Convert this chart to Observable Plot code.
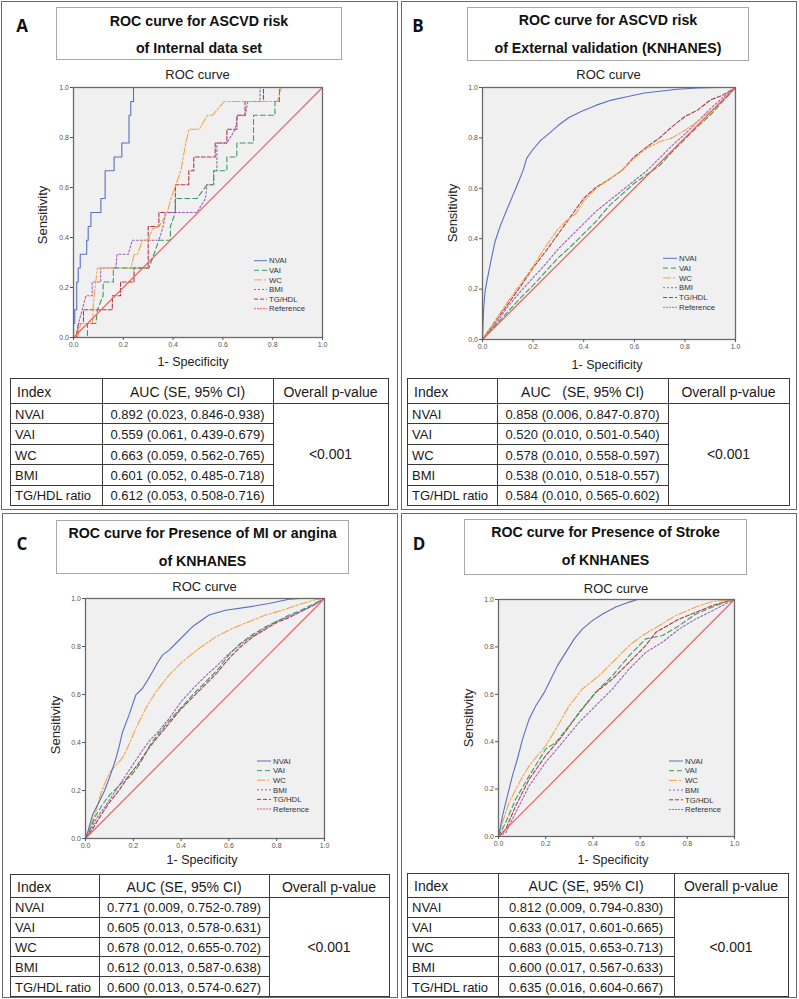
<!DOCTYPE html>
<html><head><meta charset="utf-8">
<script src="https://cdn.jsdelivr.net/npm/d3@7"></script>
<script src="https://cdn.jsdelivr.net/npm/@observablehq/plot@0.6"></script>
<style>
body{margin:0;background:#fff;font-family:"Liberation Sans",Arial,sans-serif;}
#root{position:relative;width:799px;height:999px;overflow:hidden;background:#fff;}
.panel{position:absolute;border:1px solid #6a6a6a;box-sizing:border-box;}
.tbox{position:absolute;border:1px solid #a8a8a8;box-sizing:border-box;background:#fff;}
.c{position:absolute;transform:translate(-50%,-50%);white-space:pre;color:#1a1a1a;}
.l{position:absolute;transform:translate(0,-50%);white-space:pre;color:#1a1a1a;}
.ln{position:absolute;background:#3a3a3a;}
</style></head>
<body><div id="root"></div>
<script>
// ---------- data ----------
const seriesNames = ["NVAI","VAI","WC","BMI","TG/HDL","Reference"];
const tickValues = [0, 0.2, 0.4, 0.6, 0.8, 1.0];
const reference = [[0,0],[1,1]];

// Panel A (internal data set) – step ROC curves
const A_NVAI = [[0,0],[0,0.056],[0.005,0.056],[0.005,0.111],[0.013,0.111],[0.013,0.222],[0.019,0.222],[0.019,0.278],[0.027,0.278],[0.027,0.333],[0.053,0.333],[0.053,0.389],[0.059,0.389],[0.059,0.444],[0.07,0.444],[0.07,0.5],[0.11,0.5],[0.11,0.556],[0.127,0.556],[0.127,0.667],[0.163,0.667],[0.163,0.722],[0.194,0.722],[0.194,0.778],[0.223,0.778],[0.223,0.889],[0.23,0.889],[0.23,0.944],[0.241,0.944],[0.241,1],[1,1]];
const A_VAI = [[0,0],[0.056,0],[0.056,0.056],[0.09,0.056],[0.096,0.111],[0.119,0.167],[0.119,0.222],[0.16,0.222],[0.16,0.278],[0.303,0.278],[0.323,0.333],[0.343,0.389],[0.389,0.389],[0.389,0.444],[0.409,0.5],[0.409,0.556],[0.496,0.556],[0.536,0.611],[0.563,0.611],[0.563,0.667],[0.616,0.667],[0.616,0.722],[0.656,0.722],[0.656,0.778],[0.723,0.778],[0.723,0.889],[0.809,0.889],[0.809,0.944],[0.827,0.944],[0.827,1],[1,1]];
const A_WC = [[0,0],[0.016,0],[0.029,0.056],[0.076,0.056],[0.08,0.139],[0.096,0.278],[0.23,0.278],[0.244,0.333],[0.257,0.333],[0.277,0.389],[0.3,0.389],[0.317,0.434],[0.344,0.444],[0.377,0.5],[0.391,0.556],[0.411,0.611],[0.431,0.667],[0.451,0.778],[0.464,0.833],[0.505,0.833],[0.538,0.889],[0.558,0.889],[0.605,0.944],[0.819,0.944],[0.835,1],[1,1]];
const A_BMI = [[0,0],[0.016,0],[0.02,0.056],[0.035,0.111],[0.05,0.167],[0.075,0.167],[0.075,0.222],[0.109,0.222],[0.109,0.278],[0.17,0.278],[0.175,0.333],[0.22,0.333],[0.236,0.389],[0.343,0.389],[0.36,0.444],[0.37,0.5],[0.496,0.5],[0.53,0.556],[0.536,0.611],[0.563,0.611],[0.563,0.667],[0.576,0.667],[0.576,0.778],[0.616,0.778],[0.65,0.833],[0.66,0.889],[0.69,0.889],[0.7,0.944],[0.749,0.944],[0.749,1],[1,1]];
const A_TG = [[0,0],[0.01,0],[0.02,0.056],[0.04,0.056],[0.04,0.111],[0.156,0.111],[0.156,0.167],[0.189,0.167],[0.189,0.222],[0.243,0.222],[0.243,0.278],[0.3,0.278],[0.3,0.444],[0.343,0.444],[0.343,0.5],[0.409,0.5],[0.409,0.611],[0.463,0.611],[0.463,0.667],[0.483,0.667],[0.483,0.722],[0.569,0.722],[0.569,0.778],[0.616,0.778],[0.616,0.833],[0.656,0.833],[0.656,0.889],[0.689,0.889],[0.689,0.944],[0.763,0.944],[0.763,1],[1,1]];

// Panel B (external validation, KNHANES)
const B_NVAI = [[0,0],[0.002,0.06],[0.005,0.13],[0.01,0.19],[0.017,0.23],[0.025,0.27],[0.037,0.33],[0.05,0.39],[0.07,0.45],[0.09,0.5],[0.115,0.56],[0.14,0.62],[0.16,0.67],[0.175,0.72],[0.2,0.755],[0.23,0.79],[0.26,0.815],[0.3,0.85],[0.34,0.88],[0.39,0.905],[0.45,0.93],[0.51,0.95],[0.58,0.965],[0.64,0.978],[0.7,0.985],[0.77,0.993],[0.85,0.998],[0.92,1],[1,1]];
const B_VAI = [[0,0],[0.05,0.055],[0.1,0.11],[0.15,0.165],[0.2,0.215],[0.25,0.27],[0.3,0.325],[0.35,0.37],[0.4,0.42],[0.45,0.47],[0.5,0.53],[0.55,0.575],[0.6,0.62],[0.65,0.655],[0.7,0.69],[0.75,0.745],[0.8,0.795],[0.85,0.845],[0.9,0.89],[0.95,0.945],[1,1]];
const B_WC = [[0,0],[0.02,0.03],[0.05,0.075],[0.1,0.15],[0.15,0.22],[0.2,0.29],[0.25,0.37],[0.3,0.44],[0.33,0.47],[0.37,0.5],[0.4,0.55],[0.45,0.6],[0.5,0.635],[0.55,0.67],[0.6,0.72],[0.65,0.76],[0.7,0.785],[0.75,0.8],[0.8,0.83],[0.85,0.865],[0.9,0.905],[0.95,0.95],[1,1]];
const B_BMI = [[0,0],[0.05,0.06],[0.1,0.13],[0.15,0.19],[0.2,0.245],[0.25,0.3],[0.3,0.36],[0.35,0.41],[0.4,0.46],[0.45,0.51],[0.5,0.55],[0.55,0.59],[0.6,0.63],[0.65,0.67],[0.7,0.72],[0.75,0.77],[0.8,0.815],[0.85,0.865],[0.9,0.915],[0.95,0.96],[1,1]];
const B_TG = [[0,0],[0.02,0.03],[0.05,0.07],[0.1,0.14],[0.15,0.21],[0.2,0.285],[0.25,0.35],[0.3,0.42],[0.35,0.49],[0.4,0.56],[0.45,0.605],[0.5,0.635],[0.55,0.67],[0.6,0.725],[0.65,0.765],[0.7,0.8],[0.75,0.845],[0.8,0.885],[0.85,0.91],[0.9,0.95],[0.95,0.97],[1,1]];

// Panel C (MI or angina, KNHANES)
const C_NVAI = [[0,0],[0.01,0.03],[0.03,0.1],[0.057,0.153],[0.08,0.2],[0.099,0.25],[0.113,0.29],[0.127,0.333],[0.14,0.38],[0.155,0.444],[0.182,0.514],[0.21,0.597],[0.238,0.625],[0.26,0.66],[0.28,0.694],[0.3,0.73],[0.322,0.764],[0.35,0.785],[0.391,0.826],[0.447,0.882],[0.517,0.931],[0.586,0.951],[0.684,0.965],[0.767,0.979],[0.851,0.997],[0.9,1],[1,1]];
const C_VAI = [[0,0],[0.02,0.04],[0.04,0.09],[0.07,0.14],[0.1,0.18],[0.13,0.21],[0.16,0.24],[0.19,0.26],[0.22,0.3],[0.25,0.35],[0.27,0.39],[0.3,0.43],[0.35,0.49],[0.4,0.545],[0.45,0.6],[0.5,0.65],[0.55,0.7],[0.6,0.765],[0.65,0.815],[0.7,0.85],[0.75,0.88],[0.8,0.905],[0.85,0.93],[0.9,0.95],[0.95,0.975],[1,1]];
const C_WC = [[0,0],[0.02,0.05],[0.043,0.111],[0.065,0.19],[0.085,0.24],[0.105,0.28],[0.127,0.306],[0.15,0.33],[0.168,0.361],[0.19,0.41],[0.21,0.458],[0.252,0.542],[0.294,0.611],[0.35,0.681],[0.405,0.736],[0.475,0.792],[0.545,0.84],[0.614,0.875],[0.684,0.903],[0.753,0.931],[0.823,0.951],[0.907,0.979],[0.96,0.995],[1,1]];
const C_BMI = [[0,0],[0.02,0.035],[0.05,0.09],[0.08,0.13],[0.12,0.19],[0.16,0.25],[0.2,0.31],[0.24,0.37],[0.27,0.41],[0.3,0.44],[0.35,0.5],[0.4,0.57],[0.45,0.625],[0.5,0.675],[0.55,0.72],[0.6,0.77],[0.65,0.81],[0.7,0.845],[0.75,0.875],[0.8,0.905],[0.85,0.925],[0.9,0.945],[0.95,0.97],[1,1]];
const C_TG = [[0,0],[0.03,0.04],[0.06,0.09],[0.1,0.15],[0.14,0.2],[0.18,0.26],[0.22,0.31],[0.26,0.37],[0.3,0.42],[0.35,0.48],[0.4,0.54],[0.45,0.59],[0.5,0.64],[0.55,0.69],[0.6,0.75],[0.65,0.8],[0.7,0.84],[0.75,0.87],[0.8,0.9],[0.85,0.92],[0.9,0.945],[0.95,0.97],[1,1]];

// Panel D (stroke, KNHANES)
const D_NVAI = [[0,0],[0.008,0.04],[0.017,0.087],[0.038,0.172],[0.059,0.256],[0.08,0.327],[0.102,0.411],[0.13,0.496],[0.158,0.552],[0.194,0.608],[0.222,0.665],[0.25,0.721],[0.285,0.777],[0.321,0.834],[0.356,0.876],[0.398,0.911],[0.441,0.939],[0.497,0.968],[0.554,0.989],[0.589,1],[1,1]];
const D_VAI = [[0,0],[0.031,0.06],[0.073,0.158],[0.13,0.256],[0.2,0.369],[0.243,0.397],[0.3,0.468],[0.356,0.538],[0.412,0.608],[0.483,0.679],[0.554,0.763],[0.624,0.834],[0.695,0.848],[0.766,0.89],[0.836,0.939],[0.907,0.968],[0.977,0.996],[1,1]];
const D_WC = [[0,0],[0.017,0.06],[0.045,0.144],[0.088,0.228],[0.13,0.299],[0.2,0.383],[0.243,0.454],[0.3,0.552],[0.356,0.623],[0.427,0.679],[0.497,0.749],[0.554,0.806],[0.61,0.848],[0.681,0.89],[0.751,0.932],[0.836,0.968],[0.907,0.992],[1,1]];
const D_BMI = [[0,0],[0.031,0.017],[0.073,0.101],[0.13,0.214],[0.2,0.313],[0.271,0.397],[0.342,0.482],[0.412,0.552],[0.483,0.623],[0.554,0.707],[0.624,0.777],[0.695,0.82],[0.766,0.876],[0.836,0.918],[0.907,0.953],[0.977,0.989],[1,1]];
const D_TG = [[0,0],[0.031,0.031],[0.073,0.13],[0.13,0.242],[0.2,0.341],[0.271,0.425],[0.342,0.524],[0.412,0.608],[0.483,0.665],[0.554,0.735],[0.624,0.806],[0.667,0.862],[0.766,0.918],[0.836,0.946],[0.907,0.975],[0.977,0.995],[1,1]];

// Tables
const indexLabels = ["NVAI","VAI","WC","BMI","TG/HDL ratio"];
const aucA = ["0.892 (0.023, 0.846-0.938)","0.559 (0.061, 0.439-0.679)","0.663 (0.059, 0.562-0.765)","0.601 (0.052, 0.485-0.718)","0.612 (0.053, 0.508-0.716)"];
const aucB = ["0.858 (0.006, 0.847-0.870)","0.520 (0.010, 0.501-0.540)","0.578 (0.010, 0.558-0.597)","0.538 (0.010, 0.518-0.557)","0.584 (0.010, 0.565-0.602)"];
const aucC = ["0.771 (0.009, 0.752-0.789)","0.605 (0.013, 0.578-0.631)","0.678 (0.012, 0.655-0.702)","0.612 (0.013, 0.587-0.638)","0.600 (0.013, 0.574-0.627)"];
const aucD = ["0.812 (0.009, 0.794-0.830)","0.633 (0.017, 0.601-0.665)","0.683 (0.015, 0.653-0.713)","0.600 (0.017, 0.567-0.633)","0.635 (0.016, 0.604-0.667)"];
const pValues = ["<0.001","<0.001","<0.001","<0.001"];
const headerA = ["Index","AUC (SE, 95% CI)","Overall p-value"];
const headerB = ["Index","AUC   (SE, 95% CI)","Overall p-value"];

const panelLetters = ["A","B","C","D"];
const titlesA = ["ROC curve for ASCVD risk","of Internal data set"];
const titlesB = ["ROC curve for ASCVD risk","of External validation (KNHANES)"];
const titlesC = ["ROC curve for Presence of MI or angina","of KNHANES"];
const titlesD = ["ROC curve for Presence of Stroke","of KNHANES"];

// ---------- styles ----------
const styles = {
  NVAI:{color:"#5a6fc4", dash:null, w:1.1},
  VAI:{color:"#3a9a62", dash:"5,3", w:1.1},
  WC:{color:"#f5a443", dash:"8,2,2,2", w:1.1},
  BMI:{color:"#9c62b6", dash:"2,2", w:1.1},
  "TG/HDL":{color:"#b03a48", dash:"4,2", w:1.1},
  Reference:{color:"#f25858", dash:null, w:1.1}
};

const root = document.getElementById("root");
function el(cls, css, text){ const d=document.createElement("div"); d.className=cls; Object.assign(d.style, css); if(text!=null) d.textContent=text; root.appendChild(d); return d; }

// panel borders
[[1,1,398,510],[401,1,797,510],[2,513,398,998],[401,513,797,998]].forEach(([x0,y0,x1,y1])=>{
  el("panel",{left:x0+"px",top:y0+"px",width:(x1-x0)+"px",height:(y1-y0)+"px"});
});

const panels = [
  {letter:panelLetters[0], lx:16, ly:25, titles:titlesA, box:[56,7,342,60], ty:[20.7,48.3],
   plot:[73,322,87,337], rocY:74, sensX:41.7, sensY:215, specX:193, specY:362,
   series:{NVAI:A_NVAI,VAI:A_VAI,WC:A_WC,BMI:A_BMI,"TG/HDL":A_TG},
   leg:{x0:254,x1:267,tx:269,y0:260.7,dy:9.6},
   table:{x:10,y:378,cols:[92,171,115],hh:25,rh:20.4,auc:aucA,head:headerA,p:pValues[0]}},
  {letter:panelLetters[1], lx:412, ly:25, titles:titlesB, box:[467,7,749,61], ty:[20.3,48.3],
   plot:[482,735,87,339], rocY:74, sensX:451.7, sensY:213, specX:607, specY:365,
   series:{NVAI:B_NVAI,VAI:B_VAI,WC:B_WC,BMI:B_BMI,"TG/HDL":B_TG},
   leg:{x0:663,x1:677,tx:679,y0:258.3,dy:9.8},
   table:{x:407,y:378,cols:[90,171,121],hh:25,rh:20.4,auc:aucB,head:headerB,p:pValues[1]}},
  {letter:panelLetters[2], lx:16, ly:543, titles:titlesC, box:[56,520,349,574], ty:[533.3,561],
   plot:[85,324,598,838], rocY:586, sensX:55, sensY:725, specX:202, specY:860,
   series:{NVAI:C_NVAI,VAI:C_VAI,WC:C_WC,BMI:C_BMI,"TG/HDL":C_TG},
   leg:{x0:257,x1:271,tx:273,y0:761,dy:9.6},
   table:{x:10,y:874,cols:[89,170,120],hh:23,rh:19.8,auc:aucC,head:headerA,p:pValues[2]}},
  {letter:panelLetters[3], lx:413, ly:543, titles:titlesD, box:[464,519,747,575], ty:[532.3,560],
   plot:[498,734,599,836], rocY:588, sensX:468.3, sensY:718, specX:613, specY:859.5,
   series:{NVAI:D_NVAI,VAI:D_VAI,WC:D_WC,BMI:D_BMI,"TG/HDL":D_TG},
   leg:{x0:669,x1:683,tx:685,y0:761,dy:9.7},
   table:{x:407,y:873,cols:[91,176,114],hh:24,rh:19.8,auc:aucD,head:headerA,p:pValues[3]}}
];

const ML=24, MR=4, MT=4, MB=14;
function rocChart(series, w, h){
  const marks = [Plot.frame({fill:"#f0f0f0", stroke:null})];
  for (const name of ["TG/HDL","BMI","WC","VAI","NVAI"]){
    const s = styles[name];
    marks.push(Plot.line(series[name],{x:d=>d[0],y:d=>d[1],stroke:s.color,strokeWidth:s.w,strokeDasharray:s.dash,curve:"linear"}));
  }
  marks.push(Plot.line(reference,{x:d=>d[0],y:d=>d[1],stroke:styles.Reference.color,strokeWidth:styles.Reference.w}));
  marks.push(Plot.frame({stroke:"#6a6a6a", strokeWidth:1.3}));
  marks.push(Plot.axisX({ticks:tickValues,tickFormat:d3.format(".1f"),tickSize:3,tickPadding:1.5,fontSize:7,label:null,stroke:"#555"}));
  marks.push(Plot.axisY({ticks:tickValues,tickFormat:d3.format(".1f"),tickSize:3,tickPadding:1.5,fontSize:7,label:null,stroke:"#555"}));
  return Plot.plot({width:w+ML+MR,height:h+MT+MB,marginLeft:ML,marginRight:MR,marginTop:MT,marginBottom:MB,
    x:{domain:[0,1]}, y:{domain:[0,1]},
    style:{background:"transparent",color:"#555",fontFamily:"'Liberation Sans',Arial,sans-serif",overflow:"visible"},
    marks});
}

// overlay svg for legends
const overlay = d3.select(root).append("svg").attr("width",799).attr("height",999)
  .style("position","absolute").style("left","0px").style("top","0px").style("pointer-events","none").style("z-index",5);

for (const p of panels){
  el("c",{left:(p.lx+6)+"px",top:p.ly+"px",fontFamily:"'Open Sans',sans-serif",fontWeight:"700",fontSize:"17px",color:"#111"},p.letter);
  const [bx0,by0,bx1,by1] = p.box;
  el("tbox",{left:bx0+"px",top:by0+"px",width:(bx1-bx0)+"px",height:(by1-by0)+"px"});
  p.titles.forEach((t,i)=>el("c",{left:((bx0+bx1)/2)+"px",top:p.ty[i]+"px",fontWeight:"700",fontSize:"14.2px",color:"#111"},t));
  const [x0,x1,y0,y1] = p.plot;
  el("c",{left:((x0+x1)/2)+"px",top:p.rocY+"px",fontSize:"13px",color:"#222"},"ROC curve");
  el("c",{left:p.sensX+"px",top:p.sensY+"px",fontSize:"13px",color:"#222",transform:"translate(-50%,-50%) rotate(-90deg)"},"Sensitivity");
  el("c",{left:p.specX+"px",top:p.specY+"px",fontSize:"12.5px",color:"#222"},"1- Specificity");
  const chart = rocChart(p.series, x1-x0, y1-y0);
  chart.style.position="absolute"; chart.style.left=(x0-ML)+"px"; chart.style.top=(y0-MT)+"px";
  root.appendChild(chart);
  // legend
  const g = overlay.append("g");
  seriesNames.forEach((n,i)=>{
    const s = styles[n], yy = p.leg.y0 + i*p.leg.dy;
    g.append("line").attr("x1",p.leg.x0).attr("x2",p.leg.x1).attr("y1",yy).attr("y2",yy)
      .attr("stroke",s.color).attr("stroke-width",1).attr("stroke-dasharray",n==="Reference"?"2,1":(s.dash||null));
    g.append("text").attr("x",p.leg.tx).attr("y",yy).attr("dy","0.35em").attr("font-size",7.8)
      .attr("font-family","'Liberation Sans',Arial,sans-serif").attr("fill","#333").text(n);
  });
  // table
  const T = p.table, W = T.cols[0]+T.cols[1]+T.cols[2], H = T.hh + 5*T.rh;
  const cx = [T.x, T.x+T.cols[0], T.x+T.cols[0]+T.cols[1], T.x+W];
  el("ln",{left:T.x+"px",top:T.y+"px",width:W+"px",height:"1px"});
  el("ln",{left:T.x+"px",top:(T.y+H)+"px",width:(W+1)+"px",height:"1px"});
  cx.forEach(x=>el("ln",{left:x+"px",top:T.y+"px",width:"1px",height:H+"px"}));
  el("ln",{left:T.x+"px",top:(T.y+T.hh)+"px",width:W+"px",height:"1px"});
  for (let i=1;i<5;i++) el("ln",{left:T.x+"px",top:(T.y+T.hh+i*T.rh)+"px",width:(T.cols[0]+T.cols[1])+"px",height:"1px"});
  el("l",{left:(T.x+7)+"px",top:(T.y+T.hh/2+1)+"px",fontSize:"14px"},T.head[0]);
  el("c",{left:((cx[1]+cx[2])/2)+"px",top:(T.y+T.hh/2+1)+"px",fontSize:"14px"},T.head[1]);
  el("c",{left:((cx[2]+cx[3])/2)+"px",top:(T.y+T.hh/2+1)+"px",fontSize:"14px"},T.head[2]);
  indexLabels.forEach((lab,i)=>{
    const cy = T.y+T.hh+(i+0.5)*T.rh+0.5;
    el("l",{left:(T.x+5)+"px",top:cy+"px",fontSize:"13px"},lab);
    el("c",{left:((cx[1]+cx[2])/2)+"px",top:cy+"px",fontSize:"13px"},T.auc[i]);
  });
  el("c",{left:((cx[2]+cx[3])/2)+"px",top:(T.y+T.hh+2.5*T.rh)+"px",fontSize:"14px"},T.p);
}
</script></body></html>
